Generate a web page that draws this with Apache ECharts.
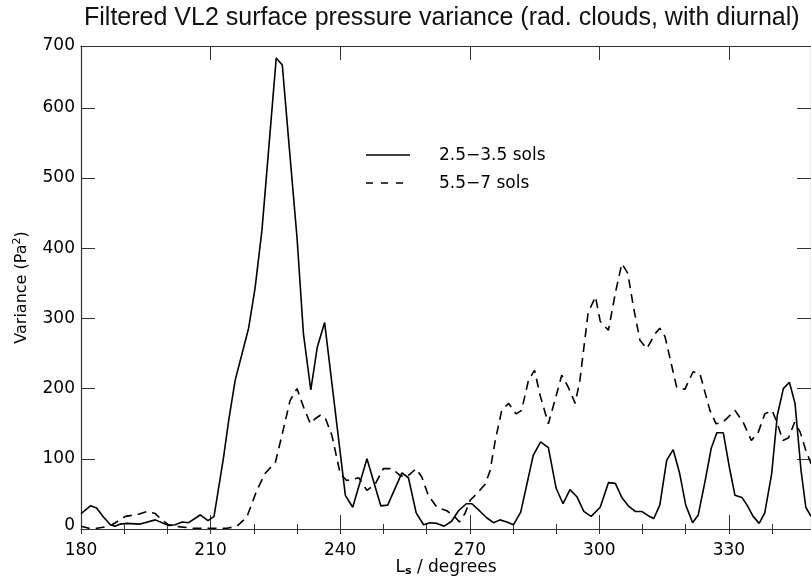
<!DOCTYPE html>
<html>
<head>
<meta charset="utf-8">
<script src="https://cdn.jsdelivr.net/npm/echarts@6/dist/echarts.min.js"></script>
<style>html,body{margin:0;padding:0;background:#fff}#c{width:811px;height:580px}</style>
</head>
<body>
<div id="c"></div>
<script>
// ---- data ----
const titleText = 'Filtered VL2 surface pressure variance (rad. clouds, with diurnal)';
const seriesNames = ['2.5\u22123.5 sols', '5.5\u22127 sols'];
const xTickLabels = [180, 210, 240, 270, 300, 330];
const yTickLabels = [0, 100, 200, 300, 400, 500, 600, 700];

const solidLs = [180,182.2,183.6,185.2,186.8,187.9,189.1,190.6,193.7,197.2,200.3,201.8,203.4,204.9,207.6,209.4,210.8,213,214.2,215.7,218.8,220.3,221.9,225.2,226.6,228.0,230.0,231.5,233.2,234.7,236.4,241.2,242.9,246.2,249.4,251.0,254.3,255.8,257.6,259.3,260.8,262.4,264.1,265.8,267.4,269.2,270.5,272.4,273.9,275.5,277.0,278.6,280.1,281.8,284.7,286.4,288.2,290.0,291.6,293.2,294.8,296.4,298.1,300.2,302.1,303.7,305.2,306.7,308.3,309.8,311.3,312.6,314.0,315.6,317.1,318.6,320.0,321.6,322.9,324.5,325.9,327.2,328.7,330.1,331.4,333.0,334.2,335.6,337.0,338.3,339.9,341.2,342.6,344.0,345.3,346.7,347.8,349.0];
const solidVar = [22,33,30,17,6,4,7,8,7,13,5,6,10,9,20,12,18,102,155,212,286,343,426,671,661,559,416,278,198,259,294,48,31,100,33,34,80,73,23,6,9,8,4,11,26,36,36,25,16,9,13,10,6,24,105,124,116,58,36,56,46,25,18,31,66,65,45,33,25,25,19,15,34,98,113,79,34,9,20,69,115,137,137,88,48,45,34,18,8,23,79,162,200,209,179,83,31,18];

const dashLs = [180,181.8,183.7,185.6,187.2,190.3,193.3,195.3,197.2,198.7,200.3,203.0,206.1,209.9,213.8,216.1,218.4,220.7,222.6,225.0,226.5,228.4,230.0,231.5,233.1,234.2,235.4,236.5,238.1,240.0,241.5,244.3,246.2,248.1,250.0,252.0,253.9,255.4,257.6,258.9,260.4,262.4,264.7,266.6,267.6,268.9,270.1,271.6,273.6,274.7,275.9,277.4,279.0,280.7,282.0,283.6,285.0,286.3,288.2,289.7,291.3,292.8,294.4,295.5,297.4,299.1,300.2,302.1,303.7,305.2,306.6,307.9,309.4,311.0,312.9,314.0,315.2,317.9,319.8,321.7,323.3,325.6,327.0,328.6,331.4,333.3,335.2,336.8,338.3,340.0,341.1,342.5,343.8,345.2,346.5,347.7,349.0];
const dashVar = [4,1,1,3,6,18,21,25,22,13,6,3,1,1,1,4,17,55,79,95,133,183,200,174,150,157,162,159,133,79,69,73,55,64,86,86,76,74,86,74,48,31,26,17,10,22,41,50,64,83,126,169,179,164,169,212,226,190,150,183,219,202,179,212,308,331,296,283,336,378,364,316,269,257,278,286,274,202,199,224,221,169,150,152,169,152,126,138,164,169,152,126,130,152,138,114,93];

// ---- chart ----
const X_MIN = 180, X_MAX = 349, Y_MIN = 0, Y_MAX = 688;
const zip = (a, b) => a.map((v, i) => [v, b[i]]);
const FONT = 'DejaVu Sans';
const axisCol = '#333';
const DASH = [9, 6];

const chart = echarts.init(document.getElementById('c'), null, {renderer: 'canvas'});

const baseX = {
  type: 'value', min: X_MIN, max: X_MAX,
  splitLine: {show: false},
  axisLine: {show: true, onZero: false, lineStyle: {color: axisCol, width: 1.2}},
};

chart.setOption({
  animation: false,
  backgroundColor: '#fff',
  title: {
    text: titleText, left: 84, top: 6, padding: 0,
    textStyle: {fontFamily: 'Liberation Sans', fontSize: 25, fontWeight: 'normal', color: '#111'}
  },
  grid: {left: 81, right: 0, top: 46, bottom: 51, containLabel: false, outerBoundsMode: 'none'},
  graphic: [
    {type: 'line', shape: {x1: 366, y1: 155, x2: 410, y2: 155}, style: {stroke: '#000', lineWidth: 1.6}},
    {type: 'line', shape: {x1: 366, y1: 183, x2: 410, y2: 183}, style: {stroke: '#000', lineWidth: 1.6, lineDash: [7, 8]}},
    {type: 'text', x: 439, y: 156, style: {text: seriesNames[0], fill: '#000', font: '17px "DejaVu Sans"', textVerticalAlign: 'middle', verticalAlign: 'middle'}},
    {type: 'text', x: 439, y: 184, style: {text: seriesNames[1], fill: '#000', font: '17px "DejaVu Sans"', textVerticalAlign: 'middle', verticalAlign: 'middle'}}
  ],
  xAxis: [
    Object.assign({}, baseX, {
      position: 'bottom', interval: 30,
      axisTick: {inside: true, length: 14, lineStyle: {color: axisCol, width: 1}},
      axisLabel: {
        fontFamily: FONT, fontSize: 17, color: '#000', margin: 13, showMaxLabel: false,
        formatter: v => xTickLabels.indexOf(v) >= 0 ? String(v) : ''
      },
      name: '{a|L}{s|s}{a| / degrees}', nameLocation: 'middle', nameGap: 29, nameMoveOverlap: false,
      nameTextStyle: {
        fontFamily: FONT, fontSize: 17, color: '#000',
        rich: {a: {fontFamily: FONT, fontSize: 17, color: '#000'},
               s: {fontFamily: FONT, fontSize: 11, color: '#000', fontWeight: 'bold', verticalAlign: 'bottom', padding: [8, 0, 0, 0]}}
      }
    }),
    Object.assign({}, baseX, {
      position: 'bottom', interval: 10,
      axisLine: {show: false},
      axisTick: {inside: true, length: 5, lineStyle: {color: axisCol, width: 1}},
      axisLabel: {show: false}
    }),
    Object.assign({}, baseX, {
      position: 'top', interval: 30,
      axisTick: {inside: true, length: 14, lineStyle: {color: axisCol, width: 1}},
      axisLabel: {show: false}
    }),
    Object.assign({}, baseX, {
      position: 'top', interval: 10,
      axisLine: {show: false},
      axisTick: {inside: true, length: 5, lineStyle: {color: axisCol, width: 1}},
      axisLabel: {show: false}
    })
  ],
  yAxis: [
    {
      type: 'value', position: 'left', min: Y_MIN, max: Y_MAX, interval: 100,
      splitLine: {show: false},
      axisLine: {show: true, onZero: false, lineStyle: {color: axisCol, width: 1.2}},
      axisTick: {inside: true, length: 14, lineStyle: {color: axisCol, width: 1}},
      axisLabel: {
        fontFamily: FONT, fontSize: 17, color: '#000', margin: 6, showMaxLabel: true, showMinLabel: true,
        formatter: v => {
          if (v === Y_MIN) return '{z|' + yTickLabels[0] + '}';
          if (v >= Y_MAX) return String(yTickLabels[yTickLabels.length - 1]);
          return String(v);
        },
        rich: {z: {fontFamily: FONT, fontSize: 17, color: '#000', padding: [0, 0, 6, 0]}}
      },
      name: '{n|Variance (Pa}{p|2}{n|)}', nameLocation: 'middle', nameGap: 50, nameMoveOverlap: false,
      nameTextStyle: {
        fontFamily: FONT, fontSize: 16, color: '#000',
        rich: {n: {fontFamily: FONT, fontSize: 16, color: '#000'},
               p: {fontFamily: FONT, fontSize: 11, color: '#000', verticalAlign: 'top', padding: [0, 0, 8, 0]}}
      }
    },
    {
      type: 'value', position: 'right', min: Y_MIN, max: Y_MAX, interval: 100,
      splitLine: {show: false},
      axisLine: {show: true, onZero: false, lineStyle: {color: axisCol, width: 1.2}},
      axisTick: {inside: true, length: 14, lineStyle: {color: axisCol, width: 1}},
      axisLabel: {show: false}
    }
  ],
  series: [
    {
      name: seriesNames[0], type: 'line', xAxisIndex: 0, yAxisIndex: 0,
      data: zip(solidLs, solidVar), symbol: 'none', showSymbol: false,
      lineStyle: {color: '#000', width: 1.6, type: 'solid'},
      itemStyle: {color: '#000'}
    },
    {
      name: seriesNames[1], type: 'line', xAxisIndex: 0, yAxisIndex: 0,
      data: zip(dashLs, dashVar), symbol: 'none', showSymbol: false,
      lineStyle: {color: '#000', width: 1.6, type: DASH},
      itemStyle: {color: '#000'}
    }
  ]
});
</script>
</body>
</html>
